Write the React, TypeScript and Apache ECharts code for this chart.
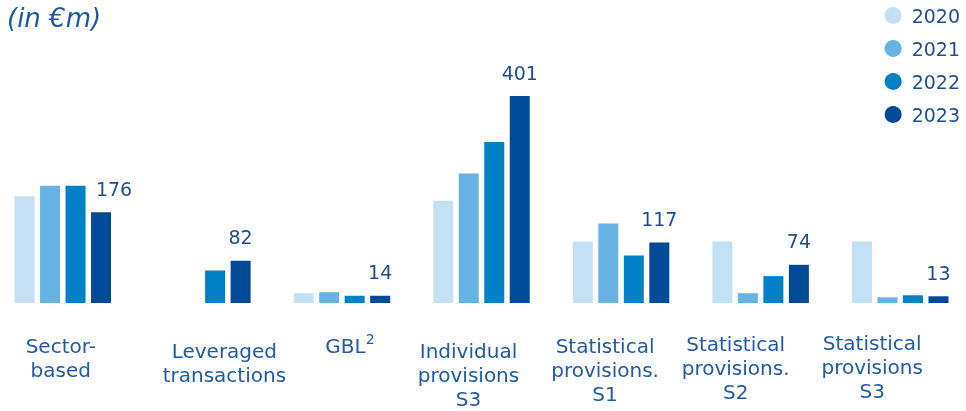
import React, { useEffect, useRef } from "react";
import * as echarts from "echarts";

const categories = [
  "Sector-\nbased",
  "Leveraged\ntransactions",
  "GBL2",
  "Individual\nprovisions\nS3",
  "Statistical\nprovisions.\nS1",
  "Statistical\nprovisions.\nS2",
  "Statistical\nprovisions\nS3",
];
const years = ["2020", "2021", "2022", "2023"];
const v2020 = [207, 0, 19, 198, 119, 119, 119];
const v2021 = [227, 0, 21, 251, 154, 19, 11];
const v2022 = [227, 63, 14, 312, 92, 52, 15];
const v2023 = [176, 82, 14, 401, 117, 74, 13];
const seriesValues = [v2020, v2021, v2022, v2023];
const colors = ["#c3e0f4", "#67b3e3", "#0080c6", "#004a98"];

// horizontal shift of each category label (px) and extra top space (px)
const labelShift = [-2, 22, 8, -13, -16, -25, -28];
const labelTop = [4, 9, 4, 9, 4, 2, 0];

const FONT = "DejaVu Sans";
const LBL = "#1f5ba8";

export default function App() {
  const ref = useRef<HTMLDivElement>(null);
  useEffect(() => {
    if (!ref.current) return;
    const chart = echarts.init(ref.current, null, { renderer: "svg" });
    const rich: Record<string, any> = {};
    categories.forEach((_, i) => {
      const s = labelShift[i];
      const pl = s > 0 ? 2 * s : 0;
      const pr = s < 0 ? -2 * s : 0;
      rich["b" + i] = {
        fontFamily: FONT,
        fontSize: 20,
        color: LBL,
        lineHeight: 24,
        padding: [0, pr, 0, pl],
      };
      rich["s" + i] = {
        fontSize: 1,
        lineHeight: Math.max(labelTop[i], 1),
        color: "rgba(0,0,0,0)",
      };
    });
    rich.gbl = {
      fontFamily: FONT,
      fontSize: 20,
      color: LBL,
      lineHeight: 24,
      padding: [0, 0, 0, 2 * labelShift[2]],
    };
    rich.sup = {
      fontFamily: FONT,
      fontSize: 14,
      color: LBL,
      lineHeight: 24,
      padding: [0, 0, 14, 0],
    };

    chart.setOption({
      animation: false,
      title: {
        text: "(in €m)",
        left: 9,
        top: 0,
        textStyle: {
          fontFamily: FONT,
          fontStyle: "italic",
          fontWeight: "normal",
          fontSize: 26,
          color: "#1d5aa6",
        },
      },
      legend: {
        orient: "vertical",
        right: 5,
        top: 1,
        icon: "circle",
        itemWidth: 17,
        itemHeight: 17,
        itemGap: 14,
        data: years,
        textStyle: {
          fontFamily: FONT,
          fontSize: 19,
          color: "#1f4f96",
          padding: [0, 0, 0, 5],
        },
      },
      grid: { left: 0, right: 0, top: 96, bottom: 108, outerBoundsMode: "none" },
      xAxis: {
        type: "category",
        data: categories,
        axisLine: { show: false },
        axisTick: { show: false },
        axisLabel: {
          interval: 0,
          margin: 27,
          formatter: (val: string, idx: number) => {
            const spacer = `{s${idx}| }`;
            if (val === "GBL2") return `${spacer}\n{gbl|GBL}{sup|2}`;
            const lines = val.split("\n");
            return [spacer, ...lines.map((l) => `{b${idx}|${l}}`)].join("\n");
          },
          rich,
        },
      },
      yAxis: {
        type: "value",
        min: 0,
        max: 401,
        show: false,
        splitLine: { show: false },
      },
      series: years.map((y, si) => ({
        name: y,
        type: "bar",
        barWidth: 20,
        barGap: "27.5%",
        itemStyle: { color: colors[si] },
        data: seriesValues[si].map((v, ci) =>
          si === 3
            ? {
                value: v,
                label: ci === 0 ? { offset: [13, 0] } : undefined,
              }
            : v
        ),
        label:
          si === 3
            ? {
                show: true,
                position: "top",
                distance: 14,
                fontFamily: FONT,
                fontSize: 19,
                color: "#1c4f94",
              }
            : { show: false },
      })),
    });
    return () => chart.dispose();
  }, []);
  return (
    <div
      ref={ref}
      style={{ position: "fixed", left: -7, top: 0, width: 977, height: 411 }}
    />
  );
}
